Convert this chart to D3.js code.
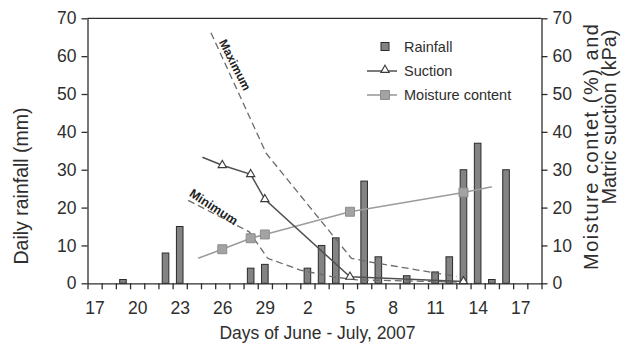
<!DOCTYPE html>
<html>
<head>
<meta charset="utf-8">
<script src="https://cdn.jsdelivr.net/npm/d3@7/dist/d3.min.js"></script>
<style>
  html, body { margin: 0; padding: 0; background: #fff; }
  svg { display: block; }
</style>
</head>
<body>
<script>
// day index 0 = June 17, 2007
const tickDays = [0, 3, 6, 9, 12, 15, 18, 21, 24, 27, 30];
const tickLabels = ['17', '20', '23', '26', '29', '2', '5', '8', '11', '14', '17'];
const yTicks = [0, 10, 20, 30, 40, 50, 60, 70];

// daily rainfall (mm)
const rainDays = [2, 5, 6, 11, 12, 15, 16, 17, 19, 20, 22, 24, 25, 26, 27, 28, 29];
const rainfall = [1, 8, 15, 4, 5, 4, 10, 12, 27, 7, 2, 3, 7, 30, 37, 1, 30];

// matric suction (kPa), first point has no marker
const suctionDays = [7.6, 9, 11, 12, 18, 26];
const suction = [33.3, 31.2, 28.8, 22.2, 1.7, 0.5];

// moisture content (%), first and last points have no marker
const moistureDays = [7.3, 9, 11, 12, 18, 26, 28];
const moisture = [6.6, 9.0, 11.9, 12.9, 18.9, 24.0, 25.5];

// envelope curves
const maxDays = [8.2, 12.1, 18.1, 19.3, 25.5];
const maxValues = [66.2, 34.3, 6.6, 5.7, 1.8];
const minDays = [6.6, 10.9, 12.2, 14.5, 16.8, 18.5, 26];
const minValues = [21.9, 13.6, 6.6, 3.5, 1.7, 0.9, 0.3];

const width = 634;
const height = 343;
const margin = { top: 18.3, right: 92.5, bottom: 59.7, left: 87.5 };
const font = "'Liberation Sans', Arial, Helvetica, sans-serif";
const ink = '#2e2e2e';

const svg = d3.select('body').append('svg')
    .attr('width', width)
    .attr('height', height);

const x = d3.scaleLinear().domain([-0.5, 31.5]).range([margin.left, width - margin.right]);
const y = d3.scaleLinear().domain([0, 70]).range([height - margin.bottom, margin.top]);

function styleAxis(g, size) {
    g.attr('color', ink);
    g.selectAll('path, line').attr('stroke-width', 1.3);
    g.selectAll('text').attr('font-size', size).attr('font-family', font).attr('fill', ink);
}

// bars
svg.append('g')
    .selectAll('rect')
    .data(rainDays)
    .join('rect')
    .attr('x', d => x(d) - 3.3)
    .attr('width', 6.6)
    .attr('y', (d, i) => y(rainfall[i]))
    .attr('height', (d, i) => y(0) - y(rainfall[i]))
    .attr('fill', '#838383')
    .attr('stroke', '#2b2b2b')
    .attr('stroke-width', 1);

// envelope dashed lines
const line = d3.line().x(d => x(d[0])).y(d => y(d[1]));
[[maxDays, maxValues], [minDays, minValues]].forEach(([ds, vs]) => {
    svg.append('path')
        .datum(ds.map((d, i) => [d, vs[i]]))
        .attr('fill', 'none')
        .attr('stroke', '#6a6a6a')
        .attr('stroke-width', 1.3)
        .attr('stroke-dasharray', '7,4')
        .attr('d', line);
});

svg.append('text')
    .attr('transform', `translate(${x(9.9)},${y(57.7)}) rotate(63)`)
    .attr('text-anchor', 'middle').attr('dy', '0.35em')
    .attr('font-family', font).attr('font-size', 12).attr('font-weight', 'bold')
    .attr('fill', '#222')
    .text('Maximum');
svg.append('text')
    .attr('transform', `translate(${x(8.4)},${y(20.2)}) rotate(33)`)
    .attr('text-anchor', 'middle').attr('dy', '0.35em')
    .attr('font-family', font).attr('font-size', 12.5).attr('font-weight', 'bold')
    .attr('fill', '#222')
    .text('Minimum');

// moisture content
const moistPts = moistureDays.map((d, i) => [d, moisture[i]]);
svg.append('path')
    .datum(moistPts)
    .attr('fill', 'none')
    .attr('stroke', '#9c9c9c')
    .attr('stroke-width', 1.6)
    .attr('d', line);
svg.append('g')
    .selectAll('path')
    .data(moistPts.slice(1, -1))
    .join('path')
    .attr('transform', d => `translate(${x(d[0])},${y(d[1])})`)
    .attr('d', d3.symbol(d3.symbolSquare, 80))
    .attr('fill', '#a3a3a3')
    .attr('stroke', '#8c8c8c');

// suction
const suctionPts = suctionDays.map((d, i) => [d, suction[i]]);
svg.append('path')
    .datum(suctionPts)
    .attr('fill', 'none')
    .attr('stroke', '#505050')
    .attr('stroke-width', 1.5)
    .attr('d', line);
svg.append('g')
    .selectAll('path')
    .data(suctionPts.slice(1))
    .join('path')
    .attr('transform', d => `translate(${x(d[0])},${y(d[1])})`)
    .attr('d', d3.symbol(d3.symbolTriangle, 30))
    .attr('fill', '#fff')
    .attr('stroke', '#3a3a3a')
    .attr('stroke-width', 1.1);

// axes
svg.append('g')
    .attr('transform', `translate(0,${y(0)})`)
    .call(d3.axisBottom(x).tickValues(d3.range(-0.5, 32, 1)).tickFormat('').tickSize(6).tickSizeOuter(0))
    .call(g => styleAxis(g, 17.5));
svg.append('g')
    .attr('transform', `translate(0,${y(0)})`)
    .call(d3.axisBottom(x).tickValues(tickDays).tickFormat((d, i) => tickLabels[i]).tickSize(0).tickPadding(18))
    .call(g => g.select('.domain').remove())
    .call(g => styleAxis(g, 17.5));
svg.append('g')
    .attr('transform', `translate(${margin.left},0)`)
    .call(d3.axisLeft(y).tickValues(yTicks).tickSize(6).tickPadding(5).tickSizeOuter(0))
    .call(g => styleAxis(g, 17.5));
svg.append('g')
    .attr('transform', `translate(${width - margin.right},0)`)
    .call(d3.axisRight(y).tickValues(yTicks).tickSize(6).tickPadding(5).tickSizeOuter(0))
    .call(g => styleAxis(g, 17.5));
svg.append('line')
    .attr('x1', margin.left).attr('x2', width - margin.right)
    .attr('y1', y(70)).attr('y2', y(70))
    .attr('stroke', ink).attr('stroke-width', 1.3);

// titles
svg.append('text')
    .attr('x', 317.5).attr('y', 338.5)
    .attr('text-anchor', 'middle')
    .attr('font-family', font).attr('font-size', 17.5).attr('fill', ink)
    .text('Days of June - July, 2007');
svg.append('text')
    .attr('transform', 'translate(27.7,186) rotate(-90)')
    .attr('text-anchor', 'middle')
    .attr('font-family', font).attr('font-size', 19.5).attr('fill', ink)
    .text('Daily rainfall (mm)');
svg.append('text')
    .attr('transform', 'translate(597.5,147) rotate(-90)')
    .attr('text-anchor', 'middle')
    .attr('font-family', font).attr('font-size', 20).attr('fill', ink)
    .attr('textLength', 246).attr('lengthAdjust', 'spacing')
    .text('Moisture contet (%) and');
svg.append('text')
    .attr('transform', 'translate(616,117) rotate(-90)')
    .attr('text-anchor', 'middle')
    .attr('font-family', font).attr('font-size', 20).attr('fill', ink)
    .attr('textLength', 175).attr('lengthAdjust', 'spacing')
    .text('Matric suction (kPa)');

// legend
const legend = svg.append('g').attr('font-family', font).attr('font-size', 14.5).attr('fill', ink);
legend.append('rect')
    .attr('x', 381).attr('y', 42.5).attr('width', 8).attr('height', 8)
    .attr('fill', '#838383').attr('stroke', '#2b2b2b');
legend.append('text').attr('x', 404).attr('y', 46.5).attr('dy', '0.35em').text('Rainfall');
legend.append('line')
    .attr('x1', 367).attr('x2', 397).attr('y1', 71).attr('y2', 71)
    .attr('stroke', '#505050').attr('stroke-width', 1.5);
legend.append('path')
    .attr('transform', 'translate(385,70)')
    .attr('d', d3.symbol(d3.symbolTriangle, 30))
    .attr('fill', '#fff').attr('stroke', '#3a3a3a').attr('stroke-width', 1.1);
legend.append('text').attr('x', 404).attr('y', 71).attr('dy', '0.35em').text('Suction');
legend.append('line')
    .attr('x1', 367).attr('x2', 397).attr('y1', 95).attr('y2', 95)
    .attr('stroke', '#9c9c9c').attr('stroke-width', 1.6);
legend.append('path')
    .attr('transform', 'translate(385,95)')
    .attr('d', d3.symbol(d3.symbolSquare, 80))
    .attr('fill', '#a3a3a3').attr('stroke', '#8c8c8c');
legend.append('text').attr('x', 404).attr('y', 95).attr('dy', '0.35em').text('Moisture content');
</script>
</body>
</html>
